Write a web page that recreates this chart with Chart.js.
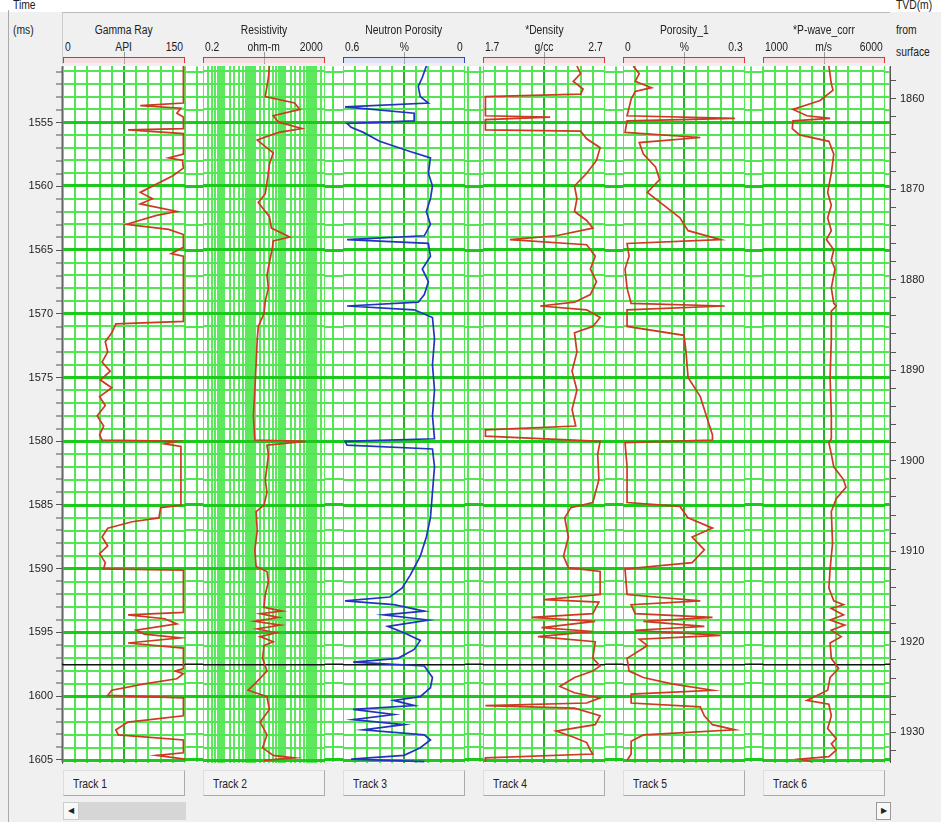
<!DOCTYPE html>
<html>
<head>
<meta charset="utf-8">
<script src="https://cdn.jsdelivr.net/npm/chart.js@4.4.0/dist/chart.umd.min.js"></script>
<style>
body{margin:0;width:941px;height:822px;background:#f0f0f0;overflow:hidden;position:relative;
  font-family:"Liberation Sans Narrow","Liberation Sans",Arial,sans-serif;color:#222;font-size:12px}
.abs{position:absolute}
.nar{transform:scaleX(0.86);transform-origin:left top;white-space:nowrap}
#topband{left:0;top:0;width:941px;height:12px;background:#fff}
#leftline{left:8px;top:10px;width:1px;height:812px;background:#aaa}
#head{left:62px;top:12px;width:828px;height:52px;border-top:1px solid #bbb;border-left:1px solid #ccc;box-sizing:border-box}
#plotbg{left:62px;top:66px;width:828px;height:697px;background:#fff}
.bracket{top:57px;height:6px;width:122px;box-sizing:border-box;border:1.5px solid #e03030;border-bottom:none;background:rgba(255,190,200,0.35)}
.mid{width:1px;top:52px;height:12px;background:#999}
canvas{position:absolute}
.tab{top:770px;width:122px;height:26px;box-sizing:border-box;background:#f3f3f3;border:1px solid #ddd;border-right:1px solid #aaa;border-bottom:1px solid #aaa;padding:6px 0 0 9px;font-size:12px}
#sleft{left:63px;top:802px;width:16px;height:18px;border:1px solid #ccc;background:#f8f8f8;box-sizing:border-box;font-size:8px;text-align:center;line-height:16px}
#thumb{left:79px;top:802px;width:107px;height:18px;background:#d6d6d6}
#sright{left:876px;top:802px;width:15px;height:18px;border:1px solid #999;background:#f8f8f8;box-sizing:border-box;font-size:8px;text-align:center;line-height:16px}
</style>
</head>
<body>
<div id="topband" class="abs"></div>
<div id="leftline" class="abs"></div>
<div id="head" class="abs"></div>
<div id="plotbg" class="abs"></div>
<div class="abs nar" style="left:13px;top:-2px">Time</div>
<div class="abs nar" style="left:13px;top:23px">(ms)</div>
<div class="abs nar" style="left:896px;top:-2px">TVD(m)</div>
<div class="abs nar" style="left:896px;top:23px">from</div>
<div class="abs nar" style="left:896px;top:45px">surface</div>
<div id="sleft" class="abs">&#9664;</div>
<div id="thumb" class="abs"></div>
<div id="sright" class="abs">&#9654;</div>
<canvas id="bg" width="941" height="717" style="left:0;top:56px"></canvas>
<script>
// time axis (ms) and TVD axis (m)
const timeMin = 1550.6, timeMax = 1605.2;
const tvdMin = 1856.47, tvdMax = 1933.31;
const timeLabels = [1555, 1560, 1565, 1570, 1575, 1580, 1585, 1590, 1595, 1600, 1605];
const tvdLabels = [1860, 1870, 1880, 1890, 1900, 1910, 1920, 1930];
const horizonTime = 1597.5;

const trackTitles = ['Gamma Ray', 'Resistivity', 'Neutron Porosity', '*Density', 'Porosity_1', '*P-wave_corr'];
const trackUnits = ['API', 'ohm-m', '%', 'g/cc', '%', 'm/s'];
const trackLeftLabels = ['0', '0.2', '0.6', '1.7', '0', '1000'];
const trackRightLabels = ['150', '2000', '0', '2.7', '0.3', '6000'];
const trackMin = [0, 0.2, 0, 1.7, 0, 1000];
const trackMax = [150, 2000, 0.6, 2.7, 0.3, 6000];

// curves: [time ms, value]
const gammaRay = [[1550.6,148],[1553.5,148],[1553.7,95],[1553.9,145],[1554.3,140],[1554.6,148],[1555.5,148],[1555.6,80],[1555.9,148],
  [1557.5,148],[1557.8,130],[1558.0,147],[1558.6,148],[1559.2,135],[1560.5,95],[1561.0,110],[1561.4,95],[1562.0,140],[1562.3,115],
  [1563.0,78],[1563.4,130],[1563.8,148],[1564.8,148],[1565.3,133],[1565.5,148],[1570.6,148],[1570.8,65],[1571.5,60],[1572.2,52],
  [1573,55],[1573.8,48],[1574.5,58],[1575.2,46],[1575.8,60],[1576.5,45],[1577.2,52],[1578,42],[1578.8,50],[1579.5,45],[1579.9,48],
  [1580.0,140],[1580.2,125],[1580.4,145],[1585.0,145],[1585.2,120],[1586,118],[1586.3,85],[1586.8,55],[1587.5,48],[1588.2,55],
  [1588.8,45],[1589.5,52],[1590.0,50],[1590.1,148],[1593.4,148],[1593.6,80],[1593.9,125],[1594.3,140],[1594.8,90],[1595.1,100],
  [1595.4,145],[1595.8,80],[1596.2,148],[1597.8,148],[1598.0,138],[1598.2,148],[1598.6,140],[1599.0,100],[1599.5,60],[1599.9,55],
  [1600.1,148],[1601.5,148],[1602.0,80],[1602.6,65],[1603.0,68],[1603.4,148],[1604.4,148],[1604.6,115],[1604.9,150]];

const resistivity = [[1550.6,30],[1551.5,28],[1553.0,22],[1553.5,200],[1554.0,300],[1554.5,40],[1555.0,60],[1555.5,350],[1555.8,60],
  [1556.4,12],[1557.4,40],[1558.3,30],[1559.2,27],[1560.6,22],[1561.3,13],[1562.4,30],[1563.3,35],[1564.0,140],[1564.3,40],
  [1564.8,38],[1566,30],[1567,25],[1568,28],[1569,22],[1570,20],[1571,13],[1572,12],[1574,11],[1576,10],[1578,9],[1579.9,10],
  [1580.0,450],[1580.3,25],[1581,28],[1582,25],[1583,22],[1584,25],[1585,20],[1585.5,11],[1587,12],[1588.5,10],[1589.8,11],
  [1590.2,25],[1591,28],[1592,22],[1593,20],[1593.3,80],[1593.5,15],[1593.8,60],[1594.1,10],[1594.4,70],[1594.7,12],[1595,50],
  [1595.3,15],[1595.7,40],[1596,20],[1597,18],[1598,25],[1599,10],[1599.5,6],[1600,25],[1601,30],[1602,15],[1603,25],[1604,18],
  [1604.6,40],[1604.8,200],[1605,20]];

const neutronPorosity = [[1550.6,0.19],[1551.5,0.21],[1552.2,0.23],[1553.0,0.22],[1553.5,0.18],[1553.8,0.59],[1554.3,0.25],
  [1554.9,0.25],[1555.1,0.58],[1555.4,0.56],[1555.8,0.5],[1556.5,0.42],[1557.3,0.27],[1557.8,0.17],[1559,0.18],[1560,0.16],
  [1561,0.17],[1562,0.19],[1563,0.17],[1563.9,0.2],[1564.2,0.58],[1564.5,0.18],[1565.5,0.17],[1566.5,0.21],[1567.5,0.18],
  [1568.5,0.2],[1569.1,0.23],[1569.4,0.58],[1569.7,0.25],[1570.3,0.16],[1572,0.15],[1574,0.16],[1576,0.15],[1578,0.16],
  [1579.8,0.15],[1580.0,0.59],[1580.3,0.58],[1580.6,0.16],[1582,0.15],[1584,0.16],[1586,0.17],[1587.5,0.19],[1589,0.22],
  [1590.5,0.27],[1591.5,0.31],[1592.2,0.37],[1592.5,0.59],[1592.8,0.35],[1593.3,0.2],[1593.6,0.4],[1594.0,0.18],[1594.5,0.38],
  [1595.0,0.3],[1595.6,0.22],[1596.3,0.25],[1597.0,0.33],[1597.3,0.55],[1597.6,0.2],[1598.5,0.16],[1599.3,0.17],[1600,0.22],
  [1600.3,0.35],[1600.7,0.25],[1601,0.55],[1601.4,0.35],[1601.8,0.55],[1602.2,0.3],[1602.6,0.5],[1603,0.2],[1603.4,0.17],
  [1604,0.22],[1604.6,0.3],[1604.9,0.56],[1605.1,0.2]];

const density = [[1550.6,2.47],[1551.2,2.5],[1551.8,2.44],[1552.4,2.52],[1552.8,2.5],[1553.0,1.72],[1553.2,1.72],[1554.5,1.72],
  [1554.6,2.25],[1554.8,1.72],[1555.6,1.72],[1555.7,2.5],[1556.3,2.55],[1557.0,2.66],[1558,2.63],[1559,2.55],[1560,2.45],
  [1561,2.47],[1562,2.45],[1562.7,2.55],[1563.3,2.6],[1563.9,2.3],[1564.2,1.92],[1564.6,2.55],[1565.5,2.62],[1566.5,2.58],
  [1567.5,2.63],[1568.5,2.58],[1569.1,2.45],[1569.4,2.17],[1569.7,2.55],[1570.3,2.66],[1571,2.6],[1571.5,2.45],[1573,2.47],
  [1574.5,2.43],[1576,2.47],[1577.5,2.43],[1578.8,2.46],[1579.1,1.72],[1579.6,1.72],[1580.0,2.66],[1581,2.64],[1583,2.65],
  [1584.8,2.6],[1585.2,2.42],[1586,2.37],[1587.5,2.4],[1589,2.36],[1589.9,2.4],[1590.2,2.66],[1592.0,2.66],[1592.4,2.2],
  [1592.6,2.65],[1593.5,2.6],[1593.8,2.1],[1594.1,2.62],[1594.6,2.18],[1594.9,2.6],[1595.3,2.15],[1595.7,2.62],[1597.0,2.6],
  [1597.6,2.66],[1598.0,2.6],[1598.5,2.45],[1599.2,2.33],[1599.7,2.45],[1600.1,2.66],[1600.5,2.55],[1600.7,1.72],[1600.9,2.45],
  [1601.5,2.66],[1602.2,2.62],[1602.7,2.3],[1603.2,2.45],[1603.6,2.55],[1604.2,2.58],[1604.5,2.6],[1604.8,1.72],[1605.1,1.72]];

const porosity1 = [[1550.6,0.025],[1551.2,0.04],[1551.8,0.03],[1552.3,0.07],[1552.6,0.03],[1553.2,0.02],[1554.5,0.01],
  [1554.7,0.275],[1554.9,0.01],[1555.8,0.005],[1556.2,0.19],[1556.6,0.04],[1557.5,0.05],[1558.5,0.08],[1559.5,0.09],
  [1560.5,0.06],[1561.5,0.1],[1562.5,0.14],[1563.5,0.16],[1564.2,0.24],[1564.5,0.01],[1565.5,0.015],[1566.5,0.005],[1568,0.01],
  [1569.2,0.02],[1569.4,0.25],[1569.7,0.01],[1571,0.01],[1571.7,0.15],[1573,0.155],[1575,0.16],[1576.5,0.19],[1577.5,0.2],
  [1578.5,0.21],[1579.5,0.22],[1579.9,0.22],[1580.1,0.005],[1582,0.01],[1584.8,0.01],[1585.1,0.14],[1586,0.16],[1586.8,0.22],
  [1587.5,0.17],[1588.5,0.2],[1589.5,0.17],[1590.0,0.005],[1592,0.01],[1592.5,0.19],[1592.8,0.02],[1593.5,0.03],[1593.8,0.22],
  [1594.1,0.05],[1594.5,0.2],[1594.8,0.03],[1595.2,0.24],[1595.5,0.04],[1596,0.06],[1597,0.01],[1598,0.015],[1598.5,0.05],
  [1599,0.12],[1599.5,0.22],[1599.8,0.02],[1600.5,0.02],[1600.8,0.19],[1601.5,0.2],[1602.2,0.22],[1602.6,0.275],[1603.0,0.05],
  [1603.5,0.02],[1604.5,0.02],[1605,0.01]];

const pWave = [[1550.6,3700],[1552,3800],[1552.5,3870],[1553.3,3340],[1554.0,2230],[1554.5,2800],[1554.7,3750],[1554.9,2230],
  [1555.5,2200],[1556,2500],[1556.5,3700],[1557.5,3900],[1559,3800],[1560.5,3650],[1561.5,3800],[1562.5,3650],[1563.5,3800],
  [1564.2,3600],[1565,3900],[1565.8,3800],[1566.5,3950],[1568,3800],[1569.2,3900],[1569.4,4000],[1569.8,3800],[1572,3800],
  [1575,3750],[1578,3800],[1579.8,3800],[1580.1,3700],[1581,3800],[1582,3900],[1583,4300],[1583.6,4400],[1584.5,4000],
  [1585.5,3800],[1588,3850],[1590,3750],[1591.5,3700],[1592.5,3900],[1592.8,4300],[1593.1,3800],[1593.6,4300],[1594,3750],
  [1594.4,4350],[1594.8,3800],[1595.3,4200],[1595.8,3750],[1597,3800],[1597.8,4100],[1598.5,3750],[1599.5,3650],[1600.3,2800],
  [1600.6,3700],[1601.5,3800],[1602.5,3650],[1603.3,4000],[1603.7,3800],[1604.2,4000],[1604.7,3700],[1604.9,2500],[1605.1,3000]];

const curves = [gammaRay, resistivity, neutronPorosity, density, porosity1, pWave];
const curveColors = ['#cc3a22', '#cc3a22', '#2233c0', '#cc3a22', '#cc3a22', '#cc3a22'];

Chart.defaults.font.family = '"Liberation Sans Narrow","Liberation Sans",Arial,sans-serif';
Chart.defaults.font.size = 11;
Chart.defaults.color = '#222';

const TRACK_LEFT = 63, TRACK_STEP = 140, TRACK_W = 122, PLOT_TOP = 66, PLOT_H = 697;
const minorGreen = '#52e652', majorGreen = '#1cc81c', logGreen = '#5ee85e';

function isMajor(v) { return Math.abs(v / 5 - Math.round(v / 5)) < 1e-6; }
const timeGrid = {
  color: c => isMajor(c.tick.value) ? majorGreen : minorGreen,
  lineWidth: c => isMajor(c.tick.value) ? 3 : 2,
  drawTicks: false
};

// background: whole grid, left time axis, right TVD axis
new Chart(document.getElementById('bg'), {
  type: 'scatter',
  data: { datasets: [{ data: [{ x: 0, y: horizonTime }, { x: 828, y: horizonTime }], showLine: true,
    borderColor: '#111', borderWidth: 1.5, pointRadius: 0 }] },
  options: {
    responsive: false, animation: false,
    layout: { padding: { top: 10, bottom: 10, left: 0, right: 0 } },
    plugins: { legend: { display: false }, tooltip: { enabled: false } },
    scales: {
      x: { type: 'linear', min: 0, max: 828, ticks: { display: false, stepSize: 12.3 },
        grid: { color: minorGreen, lineWidth: 2, drawTicks: false }, border: { display: false },
        afterFit: s => { s.height = 0; } },
      y: { position: 'left', min: timeMin, max: timeMax, reverse: true,
        ticks: { stepSize: 1, includeBounds: false, autoSkip: false, padding: 3,
          callback: v => timeLabels.includes(v) ? String(v) : '' },
        grid: { color: c => isMajor(c.tick.value) ? majorGreen : minorGreen,
          lineWidth: c => isMajor(c.tick.value) ? 3 : 2, tickColor: '#555', tickLength: 6, tickWidth: 1 },
        border: { color: '#666' },
        afterFit: s => { s.width = 62; } },
      tvd: { axis: 'y', position: 'right', min: tvdMin, max: tvdMax, reverse: true,
        ticks: { stepSize: 2, includeBounds: false, autoSkip: false, padding: 4,
          callback: v => tvdLabels.includes(v) ? String(v) : '' },
        grid: { drawOnChartArea: false, tickColor: '#555', tickLength: 6, tickWidth: 1 },
        border: { color: '#555' },
        afterFit: s => { s.width = 51; } }
    }
  }
});

const body = document.body;
function add(cls, style, text) {
  const d = document.createElement('div');
  d.className = 'abs ' + cls;
  d.style.cssText = style;
  if (text) d.textContent = text;
  body.appendChild(d);
  return d;
}
function addText(style, text, align) {
  // condensed label inside a fixed box
  const box = add('', style);
  const s = document.createElement('span');
  s.textContent = text;
  s.style.cssText = 'display:inline-block;white-space:nowrap;transform:scaleX(0.86);transform-origin:' + align + ' top';
  box.appendChild(s);
  return box;
}

for (let i = 0; i < 6; i++) {
  const left = TRACK_LEFT + TRACK_STEP * i;
  addText('left:' + left + 'px;top:23px;width:' + TRACK_W + 'px;text-align:center', trackTitles[i], 'center');
  addText('left:' + (left + 2) + 'px;top:40px', trackLeftLabels[i], 'left');
  addText('left:' + left + 'px;top:40px;width:' + TRACK_W + 'px;text-align:center', trackUnits[i], 'center');
  addText('left:' + left + 'px;top:40px;width:' + (TRACK_W - 2) + 'px;text-align:right', trackRightLabels[i], 'right');
  add('mid', 'left:' + (left + TRACK_W / 2) + 'px');
  const br = add('bracket', 'left:' + left + 'px');
  if (i === 2) { br.style.borderColor = '#3344cc'; br.style.background = 'rgba(190,200,255,0.35)'; }
  const tab = add('tab', 'left:' + left + 'px');
  const ts = document.createElement('span');
  ts.textContent = 'Track ' + (i + 1);
  ts.style.cssText = 'display:inline-block;transform:scaleX(0.86);transform-origin:left top';
  tab.appendChild(ts);

  const cv = document.createElement('canvas');
  cv.width = TRACK_W; cv.height = PLOT_H;
  cv.style.cssText = 'left:' + left + 'px;top:' + PLOT_TOP + 'px;background:#fff';
  body.appendChild(cv);

  const isLog = i === 1;
  const xMin = trackMin[i], xMax = trackMax[i];
  new Chart(cv, {
    type: 'scatter',
    data: { datasets: [
      { data: curves[i].map(p => ({ x: p[1], y: p[0] })), showLine: true, borderColor: curveColors[i],
        borderWidth: 1.7, pointRadius: 0, tension: 0 },
      { data: [{ x: xMin, y: horizonTime }, { x: xMax, y: horizonTime }], showLine: true,
        borderColor: '#111', borderWidth: 1.5, pointRadius: 0 }
    ] },
    options: {
      responsive: false, animation: false,
      layout: { padding: 0 },
      plugins: { legend: { display: false }, tooltip: { enabled: false } },
      scales: {
        x: { type: isLog ? 'logarithmic' : 'linear', min: xMin, max: xMax, reverse: i === 2,
          ticks: isLog ? { display: false } : { display: false, stepSize: (xMax - xMin) / 10 },
          grid: { color: c => isLog ? logGreen : (c.index === 5 ? '#2aae2a' : minorGreen),
            lineWidth: 2, drawTicks: false },
          border: { display: false }, afterFit: s => { s.height = 0; } },
        y: { min: timeMin, max: timeMax, reverse: true,
          ticks: { display: false, stepSize: 1, includeBounds: false },
          grid: timeGrid, border: { display: false }, afterFit: s => { s.width = 0; } }
      }
    }
  });
}
</script>
</body>
</html>
